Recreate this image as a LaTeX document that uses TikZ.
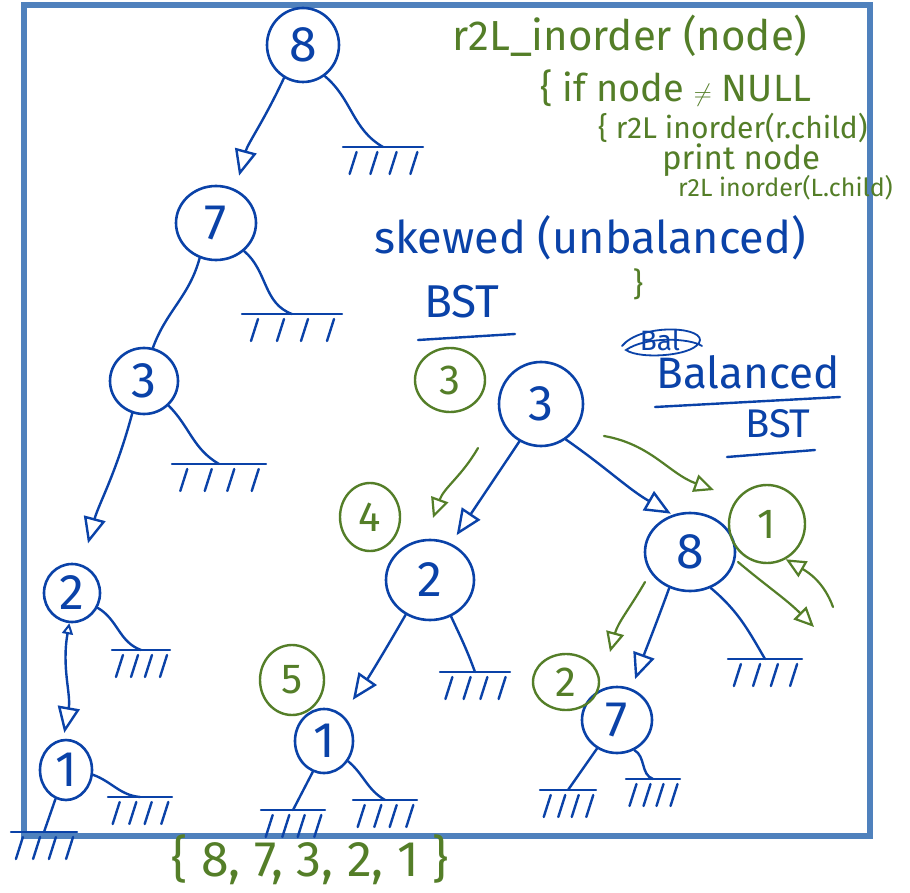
\documentclass[tikz,border=0pt]{standalone}
\usepackage{fontspec}
\setmainfont{Fira Sans}
\usetikzlibrary{shapes.geometric,arrows.meta}
\definecolor{ink}{RGB}{10,66,168}
\definecolor{note}{RGB}{84,126,40}
\definecolor{framec}{RGB}{79,129,189}
\tikzset{
  tree/.style={ellipse,draw=ink,text=ink,line width=2.6pt,inner sep=0pt,
    font=\fontsize{50}{50}\selectfont},
  order/.style={ellipse,draw=note,text=note,line width=2.4pt,inner sep=0pt,
    font=\fontsize{42}{42}\selectfont},
  link/.style={draw=ink,line width=2.4pt,line cap=round},
  down/.style={link,-{Triangle[open,length=26pt,width=22pt,line width=2.4pt]}},
  walk/.style={draw=note,line width=2.2pt,line cap=round,
    -{Triangle[open,length=20pt,width=18pt,line width=2.2pt]}},
  inktext/.style={text=ink,inner sep=0pt},
  notetext/.style={text=note,inner sep=0pt},
  pics/nullmark/.style={code={
    \draw[link] (-#1/2,0) -- (#1/2,0);
    \foreach \k in {0.12,0.38,0.62,0.88}
      \draw[link] ({-#1/2+\k*#1+4},5) -- ({-#1/2+\k*#1-3},27);
  }},
}
\begin{document}
\begin{tikzpicture}[x=1pt,y=-1pt]
\useasboundingbox (0,0) rectangle (910,893);
\fill[white] (0,0) rectangle (910,893);

% outer frame
\draw[draw=framec,line width=5.5pt] (24,5) rectangle (870,836);

% ---------- skewed tree ----------
\node[tree,minimum width=72pt,minimum height=74pt] (L8) at (303,45) {8};
\node[tree,minimum width=80pt,minimum height=74pt] (L7) at (216,223) {7};
\node[tree,minimum width=68pt,minimum height=66pt] (L3) at (144,381) {3};
\node[tree,minimum width=56pt,minimum height=58pt] (L2) at (72,593) {2};
\node[tree,minimum width=52pt,minimum height=60pt] (L1) at (66,770) {1};

\coordinate (nL8) at (383,147);  \pic at (nL8) {nullmark=80};
\coordinate (nL7) at (292,314);  \pic at (nL7) {nullmark=100};
\coordinate (nL3) at (219,464);  \pic at (nL3) {nullmark=94};
\coordinate (nL2) at (141,650);  \pic at (nL2) {nullmark=58};
\coordinate (nL1a) at (44,832);  \pic at (nL1a) {nullmark=66};
\coordinate (nL1b) at (140,797); \pic at (nL1b) {nullmark=64};

\draw[down,shorten >=14pt] (L8.240) to[out=-115,in=75] (L7.60);
\draw[link] (L8.-55) to[out=-40,in=150] (nL8);
\draw[link] (L7.245) to[out=-105,in=70] (L3.75);
\draw[link] (L7.-45) to[out=-40,in=160] (nL7);
\draw[down,shorten >=22pt] (L3.250) to[out=-105,in=75] (L2.70);
\draw[link] (L3.-45) to[out=-45,in=150] (nL3);
\draw[link,{Triangle[open,length=11pt,width=11pt,line width=2pt]}-{Triangle[open,length=26pt,width=22pt,line width=2.4pt]},shorten >=6pt]
  (L2.265) to[out=-100,in=80] (L1.95);
\draw[link] (L2.-30) to[out=-30,in=160] (nL2);
\draw[link] (L1.250) -- (nL1a);
\draw[link] (L1.-10) to[out=-20,in=175] (nL1b);

% ---------- balanced tree ----------
\node[tree,minimum width=84pt,minimum height=84pt] (R3) at (541,404) {3};
\node[tree,minimum width=88pt,minimum height=80pt] (R2) at (430,580) {2};
\node[tree,minimum width=90pt,minimum height=78pt] (R8) at (690,552) {8};
\node[tree,minimum width=58pt,minimum height=64pt] (R1) at (324,741) {1};
\node[tree,minimum width=70pt,minimum height=66pt] (R7) at (617,720) {7};

\coordinate (nR2) at (475,672);  \pic at (nR2) {nullmark=70};
\coordinate (nR1a) at (293,810); \pic at (nR1a) {nullmark=64};
\coordinate (nR1b) at (385,800); \pic at (nR1b) {nullmark=64};
\coordinate (nR8) at (765,659);  \pic at (nR8) {nullmark=74};
\coordinate (nR7a) at (568,790); \pic at (nR7a) {nullmark=56};
\coordinate (nR7b) at (653,779); \pic at (nR7b) {nullmark=54};

\draw[down,shorten >=10pt] (R3.240) -- (R2.60);
\draw[down,shorten >=2pt] (R3.-55) to[out=-35,in=150] (R8.115);
\draw[down,shorten >=18pt] (R2.235) to[out=-120,in=55] (R1.55);
\draw[link] (R2.-60) to[out=-65,in=110] (nR2);
\draw[link] (R1.250) -- (nR1a);
\draw[link] (R1.-40) to[out=-40,in=150] (nR1b);
\draw[down,shorten >=10pt] (R8.240) to[out=-110,in=70] (R7.65);
\draw[link] (R8.-60) to[out=-40,in=120] (nR8);
\draw[link] (R7.235) -- (nR7a);
\draw[link] (R7.-60) to[out=-30,in=160] (nR7b);

% ---------- visiting order ----------
\node[order,minimum width=70pt,minimum height=64pt] (G3) at (450,380) {3};
\node[order,minimum width=60pt,minimum height=68pt] (G4) at (370,517) {4};
\node[order,minimum width=64pt,minimum height=70pt] (G5) at (292,680) {5};
\node[order,minimum width=66pt,minimum height=56pt] (G2) at (566,682) {2};
\node[order,minimum width=76pt,minimum height=78pt] (G1) at (767,524) {1};

\coordinate (w1s) at (478,448); \coordinate (w1e) at (433,518);
\coordinate (w2s) at (604,436); \coordinate (w2e) at (714,490);
\coordinate (w3s) at (645,582); \coordinate (w3e) at (610,652);
\coordinate (w4s) at (738,562); \coordinate (w4e) at (814,627);
\coordinate (w5s) at (833,607);
\draw[walk] (w1s) to[out=-120,in=70] (w1e);
\draw[walk] (w2s) to[out=-10,in=160] (w2e);
\draw[walk] (w3s) to[out=-120,in=75] (w3e);
\draw[walk] (w4s) to[out=-40,in=135] (w4e);
\draw[walk] (w5s) to[out=110,in=-30] (G1.-62);

% ---------- notes ----------
\node[notetext,font=\fontsize{42}{42}\selectfont] (fn) at (630,36) {r2L\_inorder (node)};
\node[notetext,font=\fontsize{38}{38}\selectfont,anchor=west] (cond) at (540,88) {\{ if node $\neq$ NULL};
\node[notetext,font=\fontsize{30}{30}\selectfont,anchor=west] (rcall) at (598,128) {\{ r2L inorder(r.child)};
\node[notetext,font=\fontsize{33}{33}\selectfont] (prt) at (741,160) {print node};
\node[notetext,font=\fontsize{25}{25}\selectfont,anchor=west] (lcall) at (678,188) {r2L inorder(L.child)};
\node[notetext,font=\fontsize{32}{32}\selectfont] (close) at (638,284) {\}};
\node[notetext,font=\fontsize{50}{50}\selectfont] (seq) at (310,860) {\{ 8, 7, 3, 2, 1 \}};

\node[inktext,font=\fontsize{45}{45}\selectfont] (skew) at (590,238) {skewed (unbalanced)};
\node[inktext,font=\fontsize{46}{46}\selectfont] (bst1) at (462,302) {BST};
\draw[link] (418,340) -- (515,334);

\node[inktext,font=\fontsize{28}{28}\selectfont] (bal) at (660,340) {Bal};
\draw[link,line width=1.8pt] (622,346) .. controls (640,324) and (700,326) .. (700,340)
  .. controls (698,356) and (640,360) .. (626,350) .. controls (646,336) and (690,338) .. (702,346);
\node[inktext,font=\fontsize{44}{44}\selectfont] (balanced) at (748,372) {Balanced};
\draw[link] (655,407) -- (840,397);
\node[inktext,font=\fontsize{40}{40}\selectfont] (bst2) at (778,424) {BST};
\draw[link] (727,457) -- (815,450);
\end{tikzpicture}
\end{document}
